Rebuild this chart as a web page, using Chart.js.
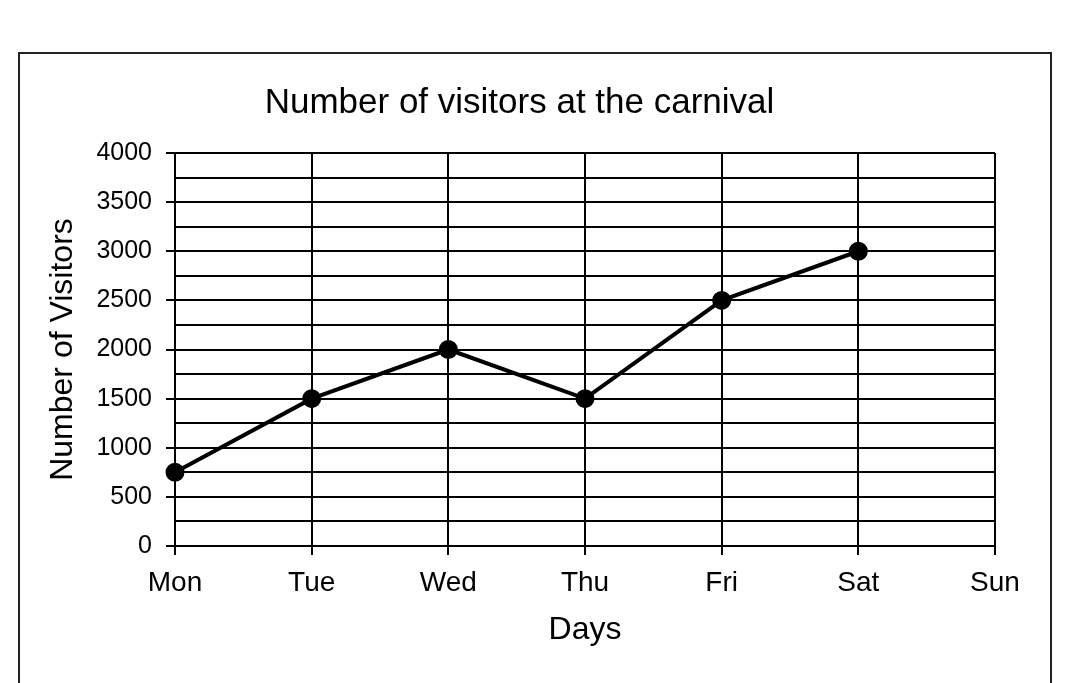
<!DOCTYPE html>
<html>
<head>
<meta charset="utf-8">
<script src="https://cdn.jsdelivr.net/npm/chart.js@4.4.0/dist/chart.umd.min.js"></script>
<style>
  html, body { margin: 0; padding: 0; background: #fff; }
  #frame {
    position: absolute; left: 18px; top: 52px; width: 1034px; height: 700px;
    border: 2px solid #222; box-sizing: border-box;
  }
  #myChart { position: absolute; left: 0; top: 0; }
</style>
</head>
<body>
<div id="frame"></div>
<canvas id="myChart" width="1073" height="683"></canvas>
<script>
const ctx = document.getElementById('myChart').getContext('2d')

const days = ['Mon', 'Tue', 'Wed', 'Thu', 'Fri', 'Sat', 'Sun']
const visitors = [750, 1500, 2000, 1500, 2500, 3000, null]
const yMax = 4000
const yStep = 250
const yLabelStep = 500

const font = 'Liberation Sans, Arial, sans-serif'

const data = {
    labels: days,
    datasets: [
    {
        data: visitors,
        label: 'Visitors',
        borderColor: '#000',
        borderWidth: 4,
        backgroundColor: '#000',
        pointBackgroundColor: '#000',
        pointRadius: 7.5,
        tension: 0,
    },
],
}

const config = {
    type: 'line',
    data: data,
    options: {
        responsive: false,
        animation: false,
        layout: {
            padding: { top: 82, left: 44, right: 78, bottom: 34 },
        },
        plugins: {
            legend: { display: false },
            tooltip: { enabled: false },
            title: {
                display: true,
                text: 'Number of visitors at the carnival',
                color: '#000',
                font: { family: font, size: 35, weight: 'normal' },
                padding: { top: 0, bottom: 29 },
            },
        },
        scales: {
            x: {
                offset: false,
                grid: {
                    color: '#000',
                    lineWidth: 2,
                    tickLength: 9,
                    tickColor: '#000',
                },
                border: { color: '#000', width: 2 },
                ticks: {
                    color: '#000',
                    font: { family: font, size: 28 },
                    padding: 11,
                    maxRotation: 0,
                },
                title: {
                    display: true,
                    text: 'Days',
                    color: '#000',
                    font: { family: font, size: 32 },
                    padding: { top: 0, bottom: 0 },
                },
            },
            y: {
                min: 0,
                max: yMax,
                grid: {
                    color: '#000',
                    lineWidth: 2,
                    tickLength: 9,
                    tickColor: (c) => (c.tick && c.tick.value % yLabelStep === 0) ? '#000' : 'rgba(0,0,0,0)',
                },
                border: { color: '#000', width: 2 },
                ticks: {
                    stepSize: yStep,
                    autoSkip: false,
                    color: '#000',
                    font: { family: font, size: 25 },
                    padding: 14,
                    callback: function (value) {
                        return value % yLabelStep === 0 ? value : ''
                    },
                },
                title: {
                    display: true,
                    text: 'Number of Visitors',
                    color: '#000',
                    font: { family: font, size: 32 },
                    padding: { top: 0, bottom: 0 },
                },
            },
        },
    },
}

const myChart = new Chart(ctx, config)
</script>
</body>
</html>
